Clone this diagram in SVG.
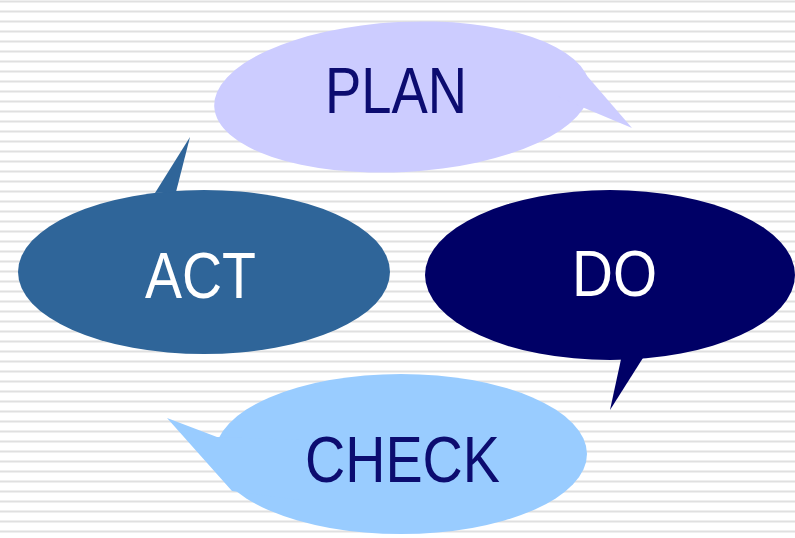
<svg xmlns="http://www.w3.org/2000/svg" width="795" height="538" viewBox="0 0 795 538">
<defs>
<pattern id="stripes" x="0" y="0" width="10" height="10" patternUnits="userSpaceOnUse">
<rect width="10" height="10" fill="#ffffff"/>
<rect y="0" width="10" height="1" fill="#efefef"/>
<rect y="1" width="10" height="1" fill="#e0e0e0"/>
<rect y="2" width="10" height="1" fill="#efefef"/>
</pattern>
<style>
.lbl{font-family:"Liberation Sans","DejaVu Sans",sans-serif;font-size:64px;font-weight:normal;}
.dark{fill:#0c0c70;}
.light{fill:#ffffff;}
</style>
</defs>
<rect width="795" height="538" fill="url(#stripes)"/>
<g id="plan">
<ellipse cx="402" cy="97" rx="188" ry="75" fill="#ccccff" transform="rotate(-3 402 97)"/>
<polygon points="575,62 632,128 582,107 555,95" fill="#ccccff"/>
<text class="lbl dark" x="325" y="113" textLength="142" lengthAdjust="spacingAndGlyphs">PLAN</text>
</g>
<g id="act">
<ellipse cx="204" cy="272" rx="186" ry="82" fill="#2f6599"/>
<polygon points="155,193 190,137 176,192" fill="#2f6599"/>
<text class="lbl light" x="145" y="298" textLength="111" lengthAdjust="spacingAndGlyphs">ACT</text>
</g>
<g id="do">
<ellipse cx="610" cy="275" rx="185" ry="85" fill="#000066"/>
<polygon points="623,350 610,410 648,350" fill="#000066"/>
<text class="lbl light" x="572" y="296" textLength="85" lengthAdjust="spacingAndGlyphs">DO</text>
</g>
<g id="check">
<ellipse cx="401" cy="454" rx="186" ry="80" fill="#99ccff"/>
<polygon points="167,418 217,437 300,440 300,500 232,491" fill="#99ccff"/>
<text class="lbl dark" x="305" y="482" textLength="195" lengthAdjust="spacingAndGlyphs">CHECK</text>
</g>
<g id="connectors"></g>
</svg>
